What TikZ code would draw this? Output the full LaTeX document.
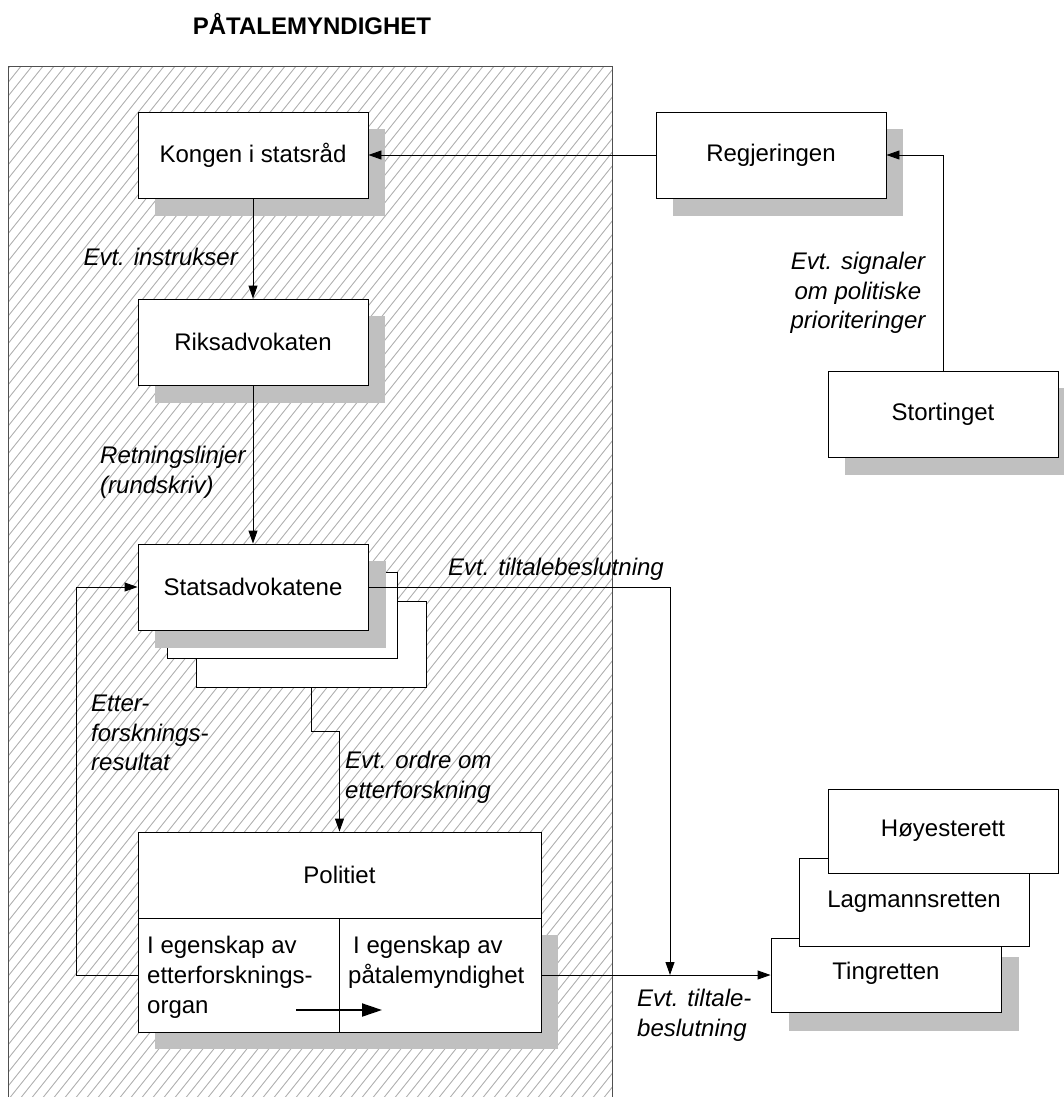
\documentclass[tikz,border=0pt]{standalone}
\usepackage{fontspec}
\setmainfont{Liberation Sans}
\usetikzlibrary{arrows.meta}
\definecolor{shadowgray}{RGB}{192,192,192}
\definecolor{hatchgray}{RGB}{178,178,178}
\definecolor{framegray}{RGB}{80,80,80}
\begin{document}
\begin{tikzpicture}[x=1pt,y=-1pt,
  box/.style={draw=black, line width=0.9pt, fill=white, minimum width=230pt, minimum height=86pt, inner sep=0pt, font=\fontsize{24}{29}\selectfont},
  cell/.style={draw=black, line width=0.9pt, fill=white, inner sep=0pt},
  shadowbox/.style={fill=shadowgray, draw=none},
  conn/.style={draw=black, line width=0.9pt, -{Triangle[length=13pt,width=9pt]}},
  lbl/.style={font=\fontsize{24}{29.5}\selectfont\itshape, inner sep=0pt, align=left},
  celltext/.style={font=\fontsize{24}{30}\selectfont, inner sep=0pt, align=left},
  hatch/.style={draw=hatchgray, line width=0.9pt},
]
\useasboundingbox (0,0) rectangle (1064,1097);
\fill[white] (0,0) rectangle (1064,1097);

% title
\node[font=\bfseries\fontsize{24}{29}\selectfont, inner sep=0pt] (title) at (312,24) {PÅTALEMYNDIGHET};

% hatched area
\begin{scope}
\clip (8,67) rectangle (612,1100);
\foreach \i in {-850,-839,...,620} \draw[hatch] (\i,1100) -- ++(1100,-1375);
\end{scope}
\draw[framegray, line width=1pt] (8,1100) -- (8,67) -- (612,67) -- (612,1100);

% Kongen
\fill[shadowbox] (155,129) rectangle (385,216);
\node[box] (kongen) at (253,155) {Kongen i statsråd};
% Regjeringen
\fill[shadowbox] (673,129) rectangle (903,216);
\node[box] (regj) at (771,155) {Regjeringen};
% Riksadvokaten
\fill[shadowbox] (155,316) rectangle (385,403);
\node[box] (riks) at (253,342) {Riksadvokaten};
% Statsadvokatene stack
\node[box] (stat3) at (311,644) {};
\node[box] (stat2) at (282,615) {};
\fill[shadowbox] (155,561) rectangle (386,648);
\node[box] (stat) at (253,587) {Statsadvokatene};
% Stortinget
\fill[shadowbox] (845,388) rectangle (1075,475);
\node[box] (stort) at (943,414) {Stortinget};

% Politiet
\fill[shadowbox] (155,935) rectangle (558,1049);
\node[cell, minimum width=403pt, minimum height=86pt, font=\fontsize{24}{29}\selectfont] (polt) at (339.5,875) {Politiet};
\node[cell, minimum width=201pt, minimum height=114pt] (lcell) at (238.5,975) {};
\node[cell, minimum width=202pt, minimum height=114pt] (rcell) at (440,975) {};
\node[celltext, anchor=north west] (ltext) at (147,936) {I egenskap av\\etterforsknings-\\organ};
\node[celltext, anchor=north west] (rtext) at (348,936) {\hspace*{5pt}I egenskap av\\påtalemyndighet};
\coordinate (ia) at (296,1010);
\coordinate (ib) at (382,1010);
\draw[line width=2pt, -{Triangle[length=20pt,width=13pt]}] (ia) -- (ib);

% courts
\fill[shadowbox] (789,957) rectangle (1019,1031);
\node[box, minimum height=74pt] (ting) at (886,975) {};
\node[box, minimum height=88pt] (lagm) at (914,902) {Lagmannsretten};
\node[box, minimum height=84pt] (hoy) at (943,831) {Høyesterett};
\node[font=\fontsize{24}{29}\selectfont, inner sep=0pt] (tingtext) at (886,973) {Tingretten};

% connectors
\draw[conn] (regj.west) -- (kongen.east);
\draw[conn] (kongen.south) -- (riks.north);
\draw[conn] (riks.south) -- (stat.north);
\draw[conn] (stort.north) |- (regj.east);
\draw[conn] (lcell.west) -- ++(-61,0) |- (stat.west);
\coordinate (junc) at (670,975);
\draw[conn] (stat.east) -| (junc);
\draw[conn] (rcell.east) -- (ting.west);
\draw[conn] (stat3.south) -- ++(0,44) -| (polt.north);

% labels
\node[lbl, anchor=north east] (l1) at (238,248) {Evt. instrukser};
\node[lbl, anchor=north west] (l2) at (100,446) {Retningslinjer\\(rundskriv)};
\node[lbl, anchor=north west] (l3) at (91,695) {Etter-\\forsknings-\\resultat};
\node[lbl, anchor=north west] (l4) at (345,751) {Evt. ordre om\\etterforskning};
\node[lbl, anchor=base east] (l5) at (664,575) {Evt. tiltalebeslutning};
\node[lbl, anchor=north west] (l6) at (637,989) {Evt. tiltale-\\beslutning};
\node[lbl, anchor=north, align=center] (l7) at (858,252) {Evt. signaler\\om politiske\\prioriteringer};
\end{tikzpicture}
\end{document}
